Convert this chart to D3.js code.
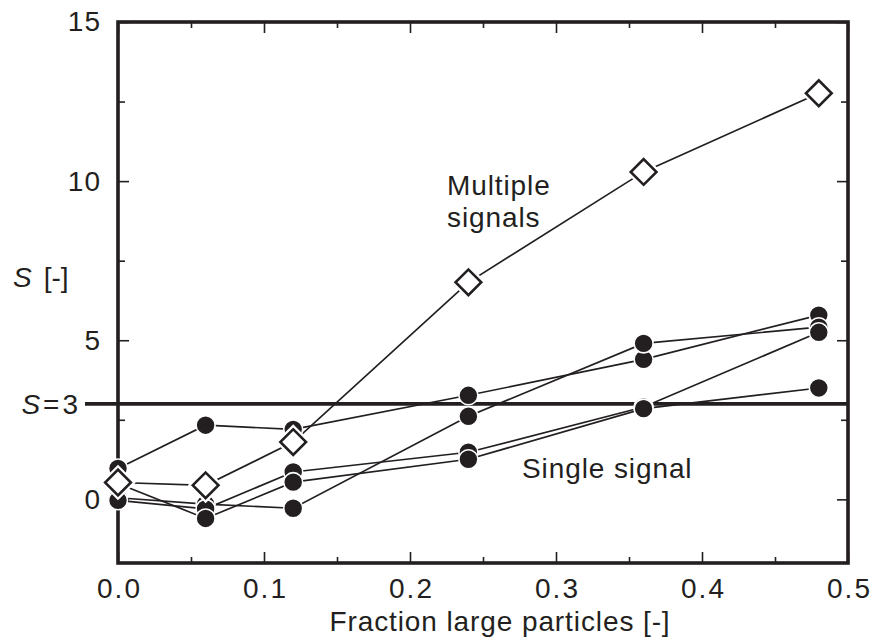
<!DOCTYPE html>
<html>
<head>
<meta charset="utf-8">
<script src="https://cdn.jsdelivr.net/npm/d3@7"></script>
<style>
    body { margin: 0; background: #fff; }
    text { font-family: "Liberation Sans", Arial, sans-serif; fill: #231f20; }
</style>
</head>
<body>
<svg id="canvas" width="877" height="639"></svg>
<script>
// data
let fractions = [0, 0.06, 0.12, 0.24, 0.36, 0.48]
let multipleSignals = [0.53, 0.44, 1.8, 6.82, 10.29, 12.76]
let singleA = [0.97, 2.33, 2.2, 3.27, 4.4, 5.79]
let singleB = [0.05, -0.15, -0.28, 2.61, 4.9, 5.41]
let singleC = [-0.03, -0.3, 0.86, 1.48, 2.9, 5.25]
let singleD = [0.5, -0.6, 0.54, 1.26, 2.85, 3.5]
let singleSeries = [singleA, singleB, singleC, singleD]

let xMajor = [0, 0.1, 0.2, 0.3, 0.4, 0.5]
let xMinor = [0.05, 0.15, 0.25, 0.35, 0.45]
let yMajor = [0, 5, 10, 15]
let yMinor = [2.5, 7.5, 12.5]
let threshold = 3

let ink = '#231f20'
let canvas = d3.select('#canvas')

let x = d3.scaleLinear().domain([0, 0.5]).range([118, 848])
let y = d3.scaleLinear().domain([-2, 15]).range([563, 22])

// axes, ticks pointing inward
let drawAxis = (axis, transform, cls) => {
    let g = canvas.append('g').attr('class', cls).attr('transform', transform).call(axis)
    g.select('.domain').remove()
    g.selectAll('line').attr('stroke', ink).attr('stroke-width', 1.6)
    g.selectAll('text').style('font-size', '28px').attr('fill', ink)
    return g
}

drawAxis(d3.axisBottom(x).tickValues(xMajor).tickSize(-11).tickPadding(15).tickFormat(d3.format('.1f')),
    `translate(0,${y(-2)})`, 'x-major')
    .selectAll('text').attr('letter-spacing', '2px').attr('dx', '1px')
drawAxis(d3.axisBottom(x).tickValues(xMinor).tickSize(-6).tickFormat(''), `translate(0,${y(-2)})`, 'x-minor')
drawAxis(d3.axisTop(x).tickValues(xMajor).tickSize(-11).tickFormat(''), `translate(0,${y(15)})`, 'x-top')
drawAxis(d3.axisTop(x).tickValues(xMinor).tickSize(-6).tickFormat(''), `translate(0,${y(15)})`, 'x-top-minor')

drawAxis(d3.axisLeft(y).tickValues(yMajor).tickSize(-11).tickPadding(17), `translate(${x(0)},0)`, 'y-major')
    .selectAll('text').attr('letter-spacing', '1px')
drawAxis(d3.axisLeft(y).tickValues(yMinor).tickSize(-7).tickFormat(''), `translate(${x(0)},0)`, 'y-minor')
drawAxis(d3.axisRight(y).tickValues(yMajor).tickSize(-11).tickFormat(''), `translate(${x(0.5)},0)`, 'y-right')
drawAxis(d3.axisRight(y).tickValues(yMinor).tickSize(-7).tickFormat(''), `translate(${x(0.5)},0)`, 'y-right-minor')

// frame
canvas.append('rect')
    .attr('x', x(0)).attr('y', y(15))
    .attr('width', x(0.5) - x(0)).attr('height', y(-2) - y(15))
    .attr('fill', 'none').attr('stroke', ink).attr('stroke-width', 3.6)

// connecting lines
let line = d3.line().x((d, i) => x(fractions[i])).y((d) => y(d))

canvas.selectAll('path.single')
    .data(singleSeries)
    .enter()
    .append('path')
    .attr('class', 'single')
    .attr('d', line)
    .attr('fill', 'none').attr('stroke', ink).attr('stroke-width', 1.7)

canvas.append('path')
    .attr('d', line(multipleSignals))
    .attr('fill', 'none').attr('stroke', ink).attr('stroke-width', 1.7)

// S = 3 threshold line, runs out past the axis to its label
canvas.append('line')
    .attr('x1', 85).attr('x2', x(0.5))
    .attr('y1', y(threshold)).attr('y2', y(threshold))
    .attr('stroke', ink).attr('stroke-width', 3.6)

// filled circles (single signal)
singleSeries.forEach((series) => {
    canvas.append('g').selectAll('circle')
        .data(series)
        .enter()
        .append('circle')
        .attr('cx', (d, i) => x(fractions[i]))
        .attr('cy', (d) => y(d))
        .attr('r', 9.5)
        .attr('fill', ink)
        .attr('stroke', '#fff').attr('stroke-width', 1.6)
})

// open diamonds (multiple signals), with a white halo so lines stop short
let diamond = d3.symbol().type(d3.symbolSquare).size(330)
canvas.append('g').selectAll('path')
    .data(multipleSignals)
    .enter()
    .append('path')
    .attr('d', diamond)
    .attr('transform', (d, i) => `translate(${x(fractions[i])},${y(d)}) rotate(45)`)
    .attr('fill', '#fff').attr('stroke', '#fff').attr('stroke-width', 7)
canvas.append('g').selectAll('path')
    .data(multipleSignals)
    .enter()
    .append('path')
    .attr('d', diamond)
    .attr('transform', (d, i) => `translate(${x(fractions[i])},${y(d)}) rotate(45)`)
    .attr('fill', '#fff').attr('stroke', ink).attr('stroke-width', 2.6)

// labels
canvas.append('text')
    .attr('x', x(0.25) + 17).attr('y', 631)
    .attr('text-anchor', 'middle')
    .attr('letter-spacing', '0.9px')
    .style('font-size', '28px')
    .text('Fraction large particles [-]')

let yTitle = canvas.append('text').attr('x', 13).attr('y', 287).style('font-size', '28px')
yTitle.append('tspan').attr('font-style', 'italic').text('S')
yTitle.append('tspan').attr('dx', 12).text('[-]')

let sLabel = canvas.append('text')
    .attr('x', 81).attr('y', y(threshold) + 10)
    .attr('text-anchor', 'end')
    .attr('letter-spacing', '3px')
    .style('font-size', '28px')
sLabel.append('tspan').attr('font-style', 'italic').text('S')
sLabel.append('tspan').text('=3')

canvas.append('text')
    .attr('x', 447).attr('y', 195)
    .attr('letter-spacing', '0.9px')
    .style('font-size', '28px')
    .text('Multiple')
canvas.append('text')
    .attr('x', 447).attr('y', 227)
    .attr('letter-spacing', '0.9px')
    .style('font-size', '28px')
    .text('signals')

canvas.append('text')
    .attr('x', 522).attr('y', 478)
    .attr('letter-spacing', '0.9px')
    .style('font-size', '28px')
    .text('Single signal')
</script>
</body>
</html>
